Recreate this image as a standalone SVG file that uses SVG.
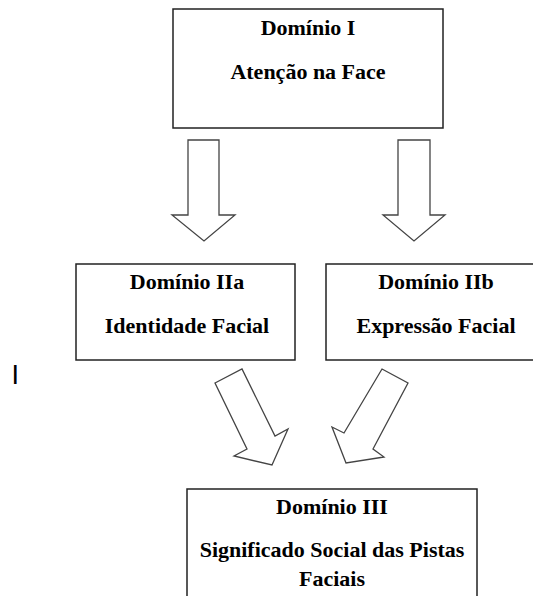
<svg xmlns="http://www.w3.org/2000/svg" width="533" height="596" viewBox="0 0 533 596">
<style>
.box{fill:#fff;stroke:#222;stroke-width:1.5}
.arr{fill:#fff;stroke:#444;stroke-width:1.3;stroke-linejoin:miter}
.t{font-family:"Liberation Serif","Times New Roman",serif;font-weight:bold;font-size:22px;fill:#000;text-anchor:middle}
</style>
<rect width="533" height="596" fill="#fff"/>
<g id="connectors">
<polygon class="arr" points="188,140 219,140 219,215 235,215 204,241 172,215 188,215"/>
<polygon class="arr" points="398,140 430,140 430,215 445,215 414,241 383,215 398,215"/>
<polygon class="arr" points="215,383 242,369 275,436 288,429 272,465 234,456 247,449"/>
<polygon class="arr" points="382,369 408,383 373,449 384,457 346,463 332,427 344,433"/>
</g>
<g id="dominio-i">
<rect class="box" x="173" y="9" width="270" height="119"/>
<text class="t" x="308" y="35">Domínio I</text>
<text class="t" x="308" y="79">Atenção na Face</text>
</g>
<g id="dominio-iia">
<rect class="box" x="76" y="264" width="219" height="96"/>
<text class="t" x="187" y="289">Domínio IIa</text>
<text class="t" x="187" y="333">Identidade Facial</text>
</g>
<g id="dominio-iib">
<rect class="box" x="326" y="264" width="220" height="96"/>
<text class="t" x="436" y="289">Domínio IIb</text>
<text class="t" x="436" y="333">Expressão Facial</text>
</g>
<g id="dominio-iii">
<rect class="box" x="187" y="489" width="290" height="120"/>
<text class="t" x="332" y="514">Domínio III</text>
<text class="t" x="332" y="557">Significado Social das Pistas</text>
<text class="t" x="332" y="586">Faciais</text>
</g>
<text x="11.5" y="384" font-family="Liberation Sans, Arial, sans-serif" font-size="27" fill="#000">I</text>
</svg>
